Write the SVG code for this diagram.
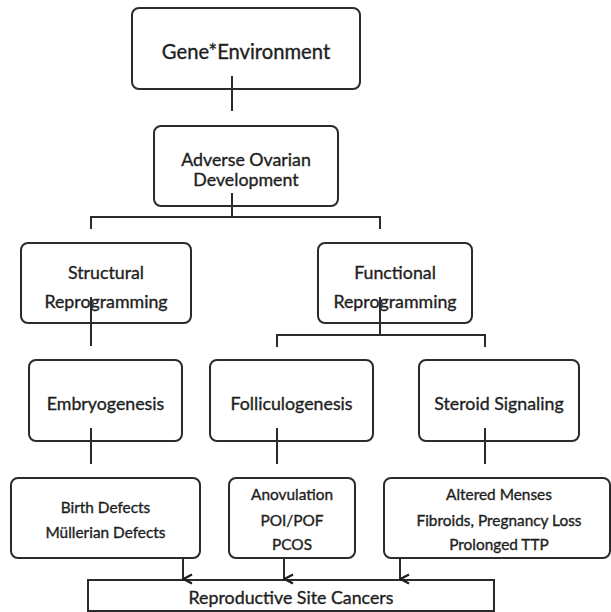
<svg xmlns="http://www.w3.org/2000/svg" width="611" height="612" viewBox="0 0 611 612">
<defs>
<style>
.box{fill:#fff;stroke:#2b2b2b;stroke-width:2}
.t{font-family:Lato,"Open Sans","Liberation Sans",sans-serif;fill:#1e1e1e;stroke:#1e1e1e;stroke-width:0.35px;text-anchor:middle;font-size:17.8px}
.big{font-size:20.2px}
.sm{font-size:15.4px}
.ln{fill:none;stroke:#2b2b2b;stroke-width:2}
</style>
<marker id="ah" markerWidth="12" markerHeight="12" refX="6" refY="10.5" orient="auto-start-reverse" markerUnits="userSpaceOnUse" viewBox="0 0 12 12">
<polyline points="1.5,1.5 6,10 10.5,1.5" fill="none" stroke="#1e1e1e" stroke-width="2.2"/>
</marker>
</defs>
<rect width="611" height="612" fill="#fff"/>
<g id="n-gene"><rect class="box" x="132" y="8" width="228" height="81" rx="7"/><text class="t big" x="246" y="59">Gene*Environment</text></g>
<g id="n-adverse"><rect class="box" x="154" y="126" width="184" height="80" rx="7"/><text class="t" x="246" y="166">Adverse Ovarian</text><text class="t" x="246" y="186">Development</text></g>
<g id="n-structural"><rect class="box" x="21" y="243" width="170" height="80" rx="7"/><text class="t" x="106" y="279">Structural</text><text class="t" x="106" y="308">Reprogramming</text></g>
<g id="n-functional"><rect class="box" x="318" y="243" width="154" height="80" rx="7"/><text class="t" x="395" y="279">Functional</text><text class="t" x="395" y="308">Reprogramming</text></g>
<g id="n-embryo"><rect class="box" x="29" y="360" width="153" height="81" rx="7"/><text class="t" x="105.5" y="410">Embryogenesis</text></g>
<g id="n-follic"><rect class="box" x="210" y="360" width="163" height="81" rx="7"/><text class="t" x="291.5" y="410">Folliculogenesis</text></g>
<g id="n-steroid"><rect class="box" x="419" y="360" width="160" height="81" rx="7"/><text class="t" x="499" y="410">Steroid Signaling</text></g>
<g id="n-birth"><rect class="box" x="11" y="478" width="189" height="80" rx="7"/><text class="t sm" x="105.5" y="513">Birth Defects</text><text class="t sm" x="105.5" y="538">Müllerian Defects</text></g>
<g id="n-anov"><rect class="box" x="229" y="478" width="126" height="80" rx="7"/><text class="t sm" x="292" y="500">Anovulation</text><text class="t sm" x="292" y="526">POI/POF</text><text class="t sm" x="292" y="550">PCOS</text></g>
<g id="n-altered"><rect class="box" x="384" y="478" width="226" height="80" rx="7"/><text class="t sm" x="499" y="500">Altered Menses</text><text class="t sm" x="499" y="526">Fibroids, Pregnancy Loss</text><text class="t sm" x="499" y="550">Prolonged TTP</text></g>
<g id="n-repro"><rect class="box" x="88" y="580" width="406" height="31"/><text class="t" x="291" y="604">Reproductive Site Cancers</text></g>
<g id="connectors">
<path class="ln" d="M232,76V111"/>
<path class="ln" d="M232,193V217M91,229V217H380V229"/>
<path class="ln" d="M91,297V346"/>
<path class="ln" d="M380,297V335M277,347V335H485V347"/>
<path class="ln" d="M91,428V464"/>
<path class="ln" d="M277,428V464"/>
<path class="ln" d="M485,428V464"/>
<path class="ln" d="M183,558V579" marker-end="url(#ah)"/>
<path class="ln" d="M284,558V579" marker-end="url(#ah)"/>
<path class="ln" d="M400,558V579" marker-end="url(#ah)"/>
</g>
</svg>
